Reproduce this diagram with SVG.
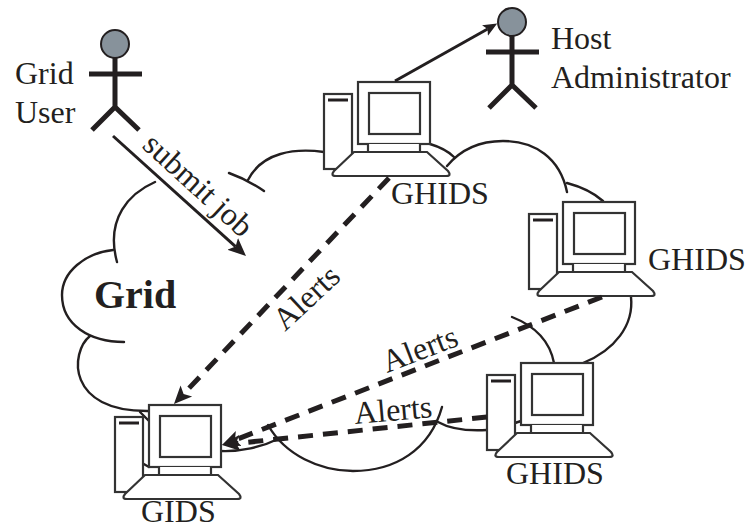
<svg xmlns="http://www.w3.org/2000/svg" xmlns:xlink="http://www.w3.org/1999/xlink" width="746" height="529" viewBox="0 0 746 529">
<style>
text{font-family:"Liberation Serif","Times New Roman",serif;font-size:32px;fill:#231f20}
.cloud{fill:none;stroke:#231f20;stroke-width:2.4;stroke-linecap:round}
.solid{fill:none;stroke:#231f20;stroke-width:3}
.dash{fill:none;stroke:#231f20;stroke-width:5;stroke-dasharray:15 10}
.pc{fill:#fff;stroke:#333;stroke-width:2.2}
.limb{fill:none;stroke:#231f20;stroke-width:5}
.head{fill:#87929b;stroke:#231f20;stroke-width:2}
</style>
<defs>
<marker id="head" markerUnits="userSpaceOnUse" markerWidth="24" markerHeight="20" refX="4" refY="10" orient="auto"><path d="M0,2 L18,10 L0,18 L4,10Z" fill="#231f20"/></marker>
<marker id="headS" markerUnits="userSpaceOnUse" markerWidth="20" markerHeight="16" refX="3" refY="8" orient="auto"><path d="M0,2 L14,8 L0,14 L3,8Z" fill="#231f20"/></marker>
<g id="computer">
<rect class="pc" x="0" y="0" width="28" height="75"/>
<path d="M4,6H24" fill="none" stroke="#231f20" stroke-width="3"/>
<rect class="pc" x="34" y="-12" width="72" height="62"/>
<rect class="pc" x="45" y="-1" width="51" height="41"/>
<path class="pc" d="M44,50V58H96V50"/>
<path class="pc" d="M30,58H103L124,77Q128,82 122,82H12Q6,82 10,77Z"/>
</g>
<g id="actor">
<path class="limb" d="M115,58V107M89,74H142M92,130L115,107L139,130"/>
<circle class="head" cx="115" cy="44" r="14"/>
</g>
</defs>
<rect width="746" height="529" fill="#fff"/>
<g id="cloud">
<path class="cloud" d="M324,152C295,148 262,152 248,180"/>
<path class="cloud" d="M229,173C243,178 254,184 264,191"/>
<path class="cloud" d="M155,182C130,193 105,218 117,262"/>
<path class="cloud" d="M113,250C85,253 62,272 62,295C62,325 90,342 124,342"/>
<path class="cloud" d="M90,336C70,352 66,412 149,411"/>
<path class="cloud" d="M140,412L149,421M142,463L149,467"/>
<path class="cloud" d="M220,451C240,452 262,447 278,439"/>
<path class="cloud" d="M268,425C285,455 320,471 353,471C395,471 430,450 442,407"/>
<path class="cloud" d="M438,422C452,430 470,431 487,430"/>
<path class="cloud" d="M512,317C535,326 550,342 554,363"/>
<path class="cloud" d="M515,423L521,421"/>
<path class="cloud" d="M583,363C615,350 634,325 631,297"/>
<path class="cloud" d="M447,166C462,148 482,141 503,141C535,141 560,158 567,192"/>
<path class="cloud" d="M567,183C582,187 594,193 603,201"/>
<path class="cloud" d="M430,144C440,147 448,151 454,157"/>
<text x="94" y="308" style="font-size:40px;font-weight:bold">Grid</text>
</g>
<g id="grid-user">
<use href="#actor"/>
<text x="15" y="84">Grid</text>
<text x="15" y="123">User</text>
</g>
<g id="host-admin">
<use href="#actor" transform="translate(397,-22)"/>
<text x="551" y="49">Host</text>
<text x="551" y="88">Administrator</text>
</g>
<g id="ghids-1">
<use href="#computer" transform="translate(324,94)"/>
<text x="391" y="204">GHIDS</text>
</g>
<g id="ghids-2">
<use href="#computer" transform="translate(529,214)"/>
<text x="648" y="270">GHIDS</text>
</g>
<g id="ghids-3">
<use href="#computer" transform="translate(487,375)"/>
<text x="506" y="484">GHIDS</text>
</g>
<g id="gids">
<use href="#computer" transform="translate(115,417)"/>
<text x="141" y="522">GIDS</text>
</g>
<g id="connectors">
<path class="solid" d="M113,136L235.6,246.6" marker-end="url(#head)"/>
<path class="solid" d="M395,81L487.6,29" marker-end="url(#headS)"/>
<path class="dash" d="M389,178L183.6,393.9" marker-end="url(#head)"/>
<path class="dash" d="M602,297L235,440" marker-end="url(#head)"/>
<path class="dash" d="M487,417L236,443.5" marker-end="url(#head)"/>
<text transform="translate(141,147) rotate(42.5)">submit job</text>
<text transform="translate(285,332) rotate(-43)">Alerts</text>
<text transform="translate(387,373) rotate(-21)">Alerts</text>
<text transform="translate(355,424) rotate(-5)">Alerts</text>
</g>
</svg>
